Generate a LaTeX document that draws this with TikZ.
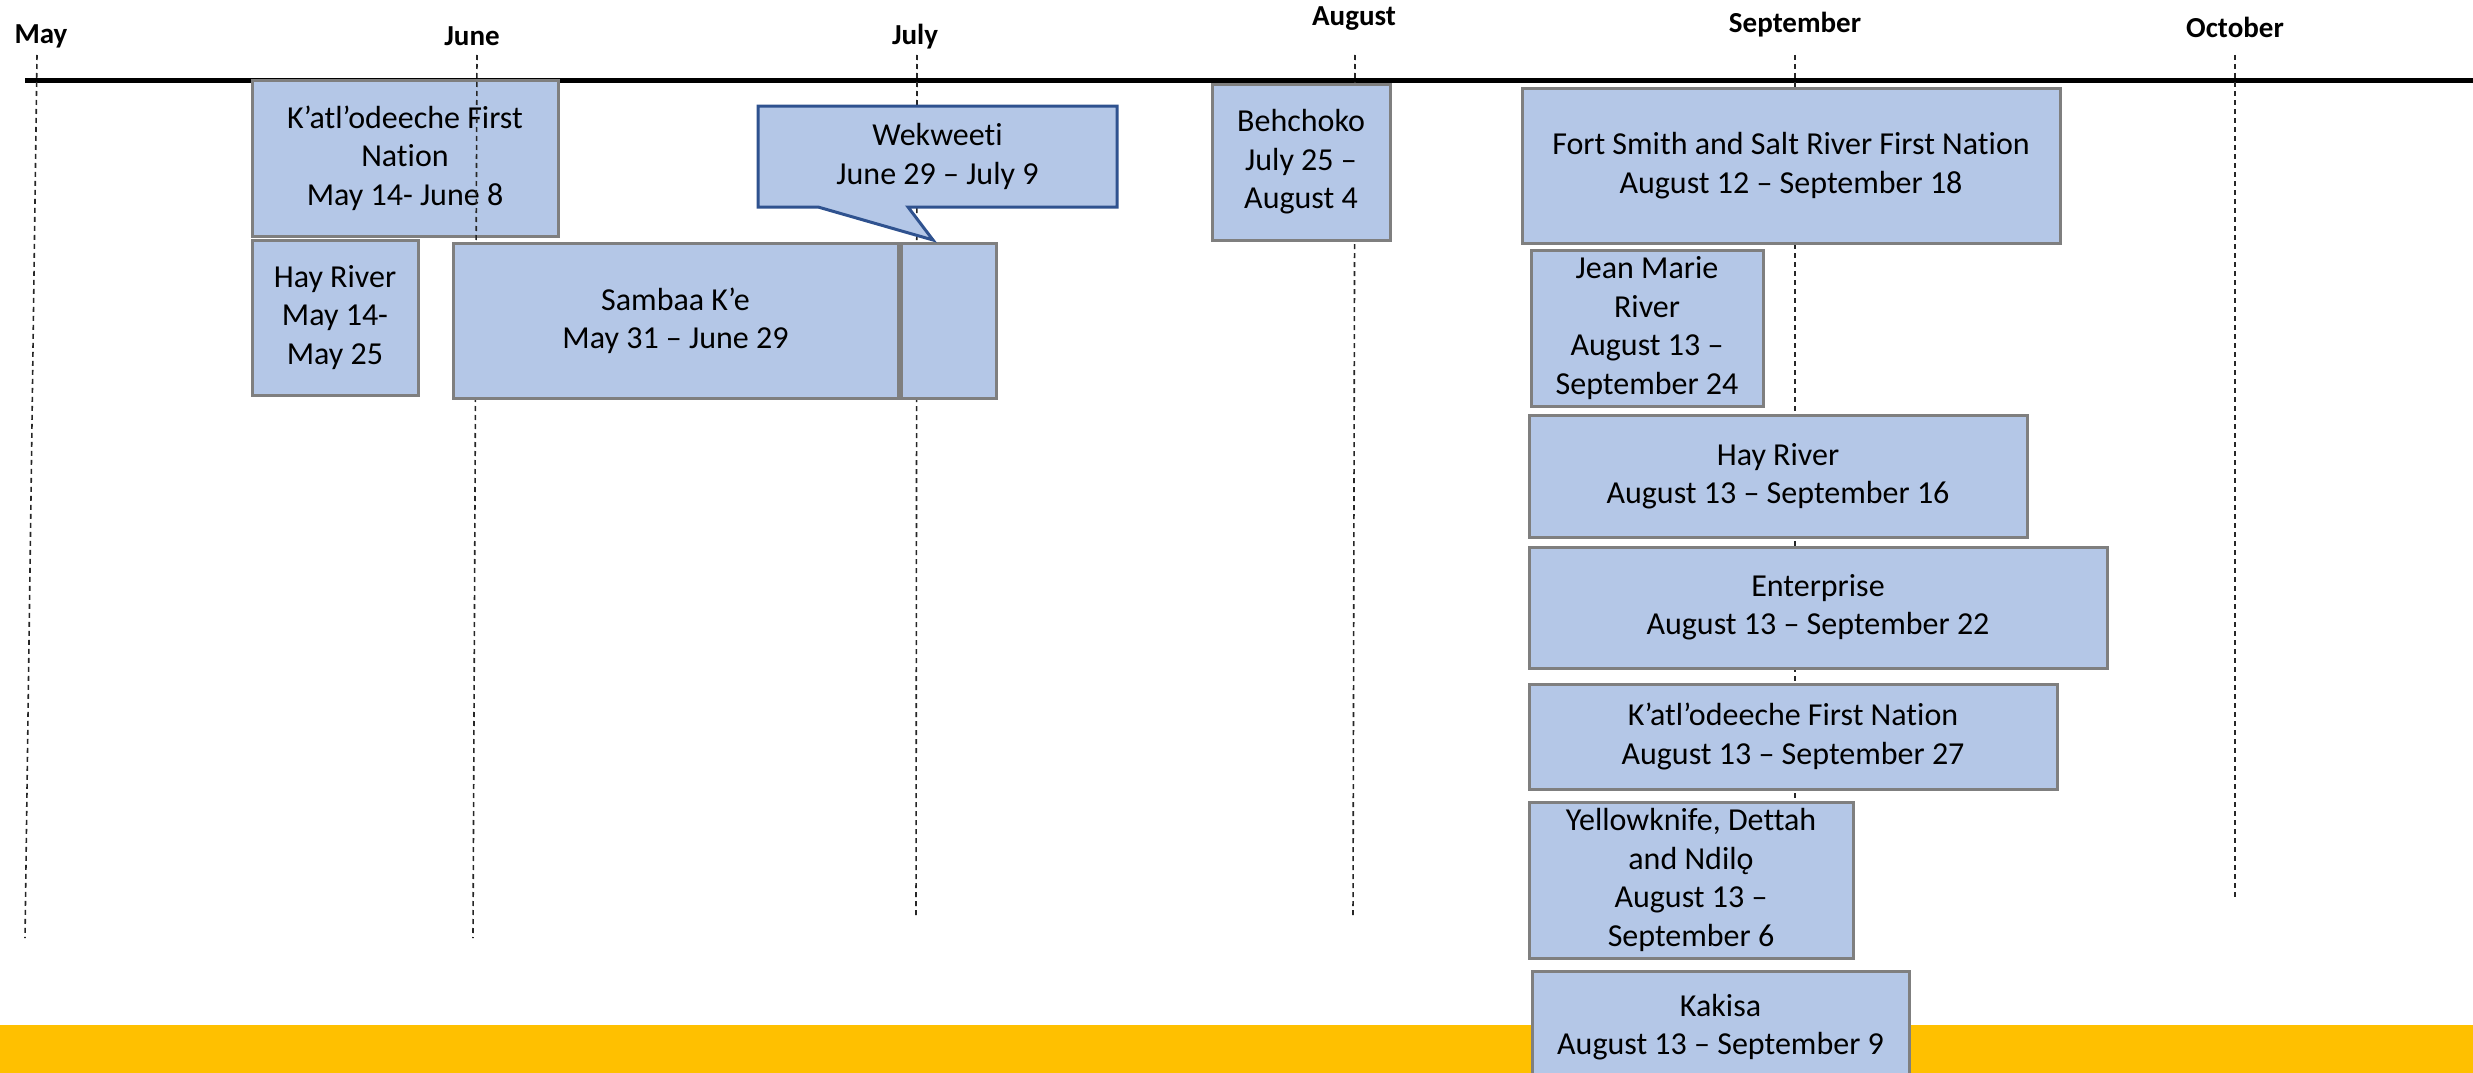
\documentclass[tikz,border=0pt]{standalone}
\usepackage{fontspec}
\setmainfont{Carlito}[Ligatures={NoCommon}]
\definecolor{boxfill}{RGB}{180,199,231}
\definecolor{boxline}{RGB}{127,127,127}
\definecolor{callline}{RGB}{47,82,143}
\definecolor{bandyellow}{RGB}{255,192,0}
\tikzset{
  box/.style={draw=boxline, fill=boxfill, line width=3pt, inner sep=0pt, align=center,
              font=\fontsize{32}{38.4}\selectfont},
  month/.style={inner sep=0pt, font=\fontsize{29}{34}\selectfont\bfseries},
  monthline/.style={line width=1.6pt, dash pattern=on 5pt off 4pt, black!85},
  callbox/.style={draw=callline, fill=boxfill, line width=3pt, line join=miter},
  calltext/.style={inner sep=0pt, align=center, font=\fontsize{32}{38.4}\selectfont},
}
\begin{document}
\begin{tikzpicture}[x=1pt,y=-1pt]
\useasboundingbox (0,0) rectangle (2473,1073);
% timeline
\coordinate (tlA) at (25,80);
\coordinate (tlB) at (2473,80);
\draw[line width=5pt] (tlA) -- (tlB);
% month labels
\node[month] (mMay) at (41,36) {May};
\node[month] (mJun) at (472,36) {June};
\node[month] (mJul) at (915,37) {July};
\node[month] (mAug) at (1354,19) {August};
\node[month] (mSep) at (1795,25) {September};
\node[month] (mOct) at (2235,27) {October};
% first box below the month lines
\node[box, minimum width=306pt, minimum height=156pt] (k1) at (405,158)
  {K’atl’odeeche First\\Nation\\May 14- June 8};
% month lines
\coordinate (mayT) at (37,55);   \coordinate (mayB) at (25,938);
\coordinate (junT) at (477,55);  \coordinate (junB) at (473,938);
\coordinate (julT) at (917,55);  \coordinate (julB) at (916,918);
\coordinate (augT) at (1355,55); \coordinate (augB) at (1353,918);
\coordinate (sepT) at (1795,55); \coordinate (sepB) at (1795,918);
\coordinate (octT) at (2235,55); \coordinate (octB) at (2235,900);
\foreach \m in {may,jun,jul,aug,sep,oct}{\draw[monthline] (\m T) -- (\m B);}
% boxes
\node[box, minimum width=166pt, minimum height=155pt] (hr1) at (335,317.5)
  {Hay River\\May 14-\\May 25};
\node[box, minimum width=445pt, minimum height=155pt] (sam) at (675.5,320.5)
  {Sambaa K’e\\May 31 – June 29};
\node[box, minimum width=95pt, minimum height=155pt] (samx) at (948.5,320.5) {};
% callout
\draw[callbox] (758,106) -- (1117,106) -- (1117,207) -- (908,207) -- (933,240)
  -- (818,207) -- (758,207) -- cycle;
\node[calltext] (wek) at (937.5,156.5) {Wekweeti\\June 29 – July 9};
\node[box, minimum width=178pt, minimum height=156pt] (beh) at (1301,162)
  {Behchoko\\July 25 –\\August 4};
\node[box, minimum width=538pt, minimum height=155pt] (fs) at (1791,165.5)
  {Fort Smith and Salt River First Nation\\August 12 – September 18};
\node[box, minimum width=232pt, minimum height=156pt] (jm) at (1647,328)
  {Jean Marie\\River\\August 13 –\\September 24};
\node[box, minimum width=498pt, minimum height=122pt] (hr2) at (1778,476)
  {Hay River\\August 13 – September 16};
\node[box, minimum width=578pt, minimum height=121pt] (ent) at (1818,607.5)
  {Enterprise\\August 13 – September 22};
\node[box, minimum width=528pt, minimum height=105pt] (k2) at (1793,736.5)
  {K’atl’odeeche First Nation\\August 13 – September 27};
\node[box, minimum width=324pt, minimum height=156pt] (yk) at (1691,880)
  {Yellowknife, Dettah\\and Ndilǫ\\August 13 –\\September 6};
% yellow band
\fill[bandyellow] (0,1025) rectangle (2473,1080);
\node[box, minimum width=377pt, minimum height=112pt] (kak) at (1720.5,1027)
  {Kakisa\\August 13 – September 9};
\end{tikzpicture}
\end{document}
